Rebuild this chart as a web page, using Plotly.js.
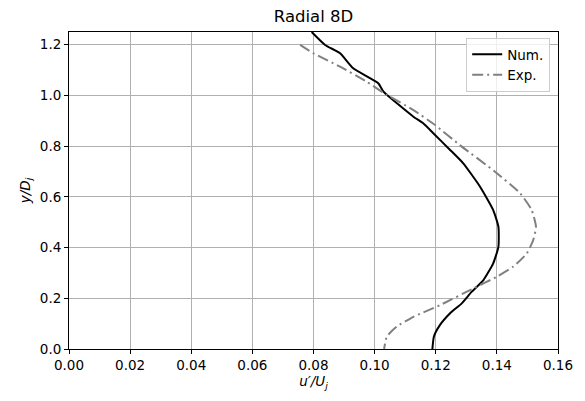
<!DOCTYPE html>
<html><head><meta charset="utf-8">
<script src="https://cdn.plot.ly/plotly-3.0.1.min.js"></script>
<style>body{margin:0;padding:0;background:#fff}#plot{width:585px;height:401px}</style>
</head><body><div id="plot"></div>
<script>
const numX = [0.0794,0.0838,0.0887,0.0930,0.1012,0.1029,0.1127,0.1159,0.1192,0.1247,0.1290,0.1345,0.1388,0.1405,0.1405,0.1388,0.1356,0.1318,0.1285,0.1247,0.1214,0.1194,0.1189];
const numY = [1.25,1.199,1.166,1.107,1.048,1.015,0.916,0.890,0.851,0.785,0.732,0.640,0.548,0.482,0.403,0.338,0.272,0.226,0.180,0.141,0.095,0.049,0.0];
const expX = [0.0756,0.0800,0.0887,0.0974,0.1040,0.1127,0.1198,0.1279,0.1394,0.1476,0.1514,0.1528,0.1519,0.1498,0.1454,0.1400,0.1323,0.1214,0.1127,0.1072,0.1040,0.1031];
const expY = [1.199,1.166,1.113,1.054,1.002,0.942,0.883,0.804,0.699,0.614,0.548,0.482,0.430,0.377,0.325,0.285,0.239,0.173,0.127,0.088,0.049,0.0];
const xTicks = [0,0.02,0.04,0.06,0.08,0.10,0.12,0.14,0.16];
const xTickLabels = ["0.00","0.02","0.04","0.06","0.08","0.10","0.12","0.14","0.16"];
const yTicks = [0,0.2,0.4,0.6,0.8,1.0,1.2];
const yTickLabels = ["0.0","0.2","0.4","0.6","0.8","1.0","1.2"];

const traces = [
  {x:numX, y:numY, mode:'lines', name:'Num.', line:{color:'#000000', width:2, shape:'spline', smoothing:0.5}},
  {x:expX, y:expY, mode:'lines', name:'Exp.', line:{color:'#808080', width:2, dash:'11px,4px,2px,4px', shape:'spline', smoothing:0.5}}
];
const axisCommon = {
  showline:true, linecolor:'#000', linewidth:1, mirror:true,
  ticks:'outside', ticklen:4, tickwidth:1, tickcolor:'#000',
  showgrid:true, gridcolor:'#b0b0b0', gridwidth:1, zeroline:false,
  tickfont:{family:'DejaVu Sans', size:13.5, color:'#000'}
};
const layout = {
  width:585, height:401,
  margin:{l:69, r:27, t:32, b:52},
  paper_bgcolor:'#fff', plot_bgcolor:'#fff',
  font:{family:'DejaVu Sans', color:'#000'},
  title:{text:'Radial 8D', font:{size:16.5, family:'DejaVu Sans', color:'#000'}, xref:'paper', x:0.5, xanchor:'center', y:0.96, yanchor:'middle'},
  xaxis:Object.assign({}, axisCommon, {range:[0,0.16], tickvals:xTicks, ticktext:xTickLabels,
    title:{text:'<i>u′/U<sub>j</sub></i>', font:{size:13.5, family:'DejaVu Sans'}, standoff:4}}),
  yaxis:Object.assign({}, axisCommon, {range:[0,1.25], tickvals:yTicks, ticktext:yTickLabels,
    title:{text:'<i>y/D<sub>j</sub></i>', font:{size:13.5, family:'DejaVu Sans'}, standoff:6}}),
  legend:{x:0.984, y:0.981, xanchor:'right', yanchor:'top', bgcolor:'rgba(255,255,255,0.8)', bordercolor:'#cccccc', borderwidth:1, font:{size:13.5, family:'DejaVu Sans'}, tracegroupgap:0},
  showlegend:true
};
Plotly.newPlot('plot', traces, layout, {displayModeBar:false, staticPlot:true});
</script></body></html>
